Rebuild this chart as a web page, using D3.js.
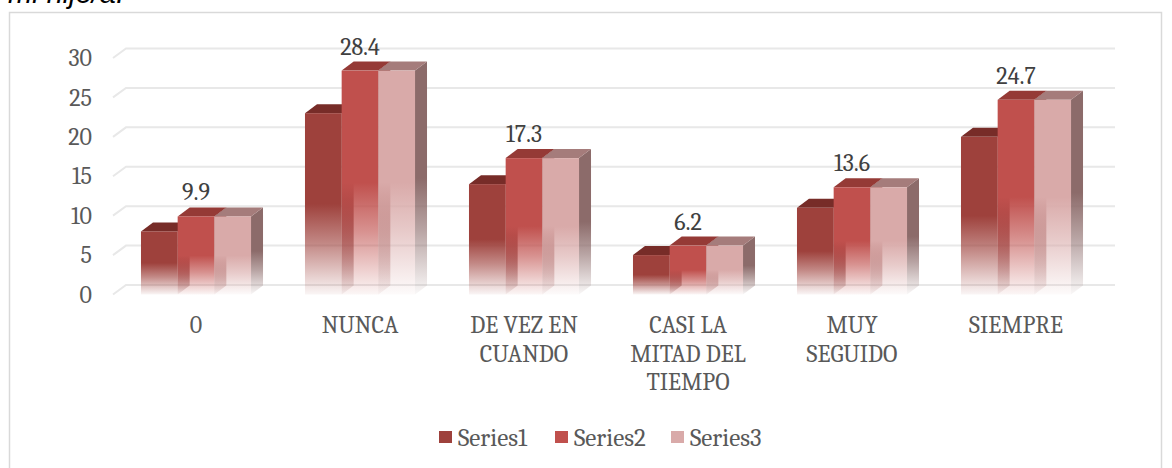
<!DOCTYPE html>
<html>
<head>
<meta charset="utf-8">
<script src="https://cdn.jsdelivr.net/npm/d3@7"></script>
<style>
  body { margin: 0; background: #fff; }
  svg text { font-family: Cambria, "Liberation Serif", serif; }
</style>
</head>
<body>
<div id="chart"></div>
<script>
(function() {
    // Chart data
    const categories = ["0", "NUNCA", "DE VEZ EN CUANDO", "CASI LA MITAD DEL TIEMPO", "MUY SEGUIDO", "SIEMPRE"];
    const seriesNames = ["Series1", "Series2", "Series3"];
    const series1 = [8, 23, 14, 5, 11, 20];
    const series2 = [9.9, 28.4, 17.3, 6.2, 13.6, 24.7];
    const series3 = [9.9, 28.4, 17.3, 6.2, 13.6, 24.7];
    const dataLabels = ["9.9", "28.4", "17.3", "6.2", "13.6", "24.7"];
    const yTicks = [0, 5, 10, 15, 20, 25, 30];

    const values = [series1, series2, series3];

    // colours per series: front, top, side
    const colors = [
        { front: "#9E413C", top: "#772C28", side: "#6E2E2B" },
        { front: "#C0504D", top: "#953A36", side: "#8E3C39" },
        { front: "#D9AAA9", top: "#A57C7B", side: "#8C6B6A" }
    ];

    const width = 1172, height = 468;
    const depth = { dx: 12, dy: -9 };      // bar depth offset
    const gridDepth = { dx: 13, dy: -9.5 }; // wall offset
    const fontSize = "24px";

    const svg = d3.select("#chart")
        .append("svg")
        .attr("width", width)
        .attr("height", height);

    // clipped heading from the document above the chart
    svg.append("text")
        .attr("x", 8)
        .attr("y", 3)
        .style("font-family", "'Liberation Sans', Arial, sans-serif")
        .style("font-style", "italic")
        .style("font-size", "29px")
        .attr("fill", "#000")
        .text("mi hijo/a.");

    // chart border
    svg.append("rect")
        .attr("x", 9.5)
        .attr("y", 12.5)
        .attr("width", 1152)
        .attr("height", 470)
        .attr("fill", "none")
        .attr("stroke", "#D9D9D9")
        .attr("stroke-width", 1.5);

    // Scales
    const y = d3.scaleLinear()
        .domain([0, 30])
        .range([294.5, 58]);

    const x0 = d3.scaleBand()
        .domain(categories)
        .range([114, 1098])
        .paddingInner(0.329)
        .paddingOuter(0.1645);

    const x1 = d3.scaleBand()
        .domain(seriesNames)
        .range([0, x0.bandwidth()]);

    // Gridlines with a 3D wall
    const gridRight = 1115;
    svg.append("g")
        .selectAll("path")
        .data(yTicks)
        .enter()
        .append("path")
        .attr("d", d => `M${x0.range()[0] - 1},${y(d)} L${x0.range()[0] - 1 + gridDepth.dx},${y(d) + gridDepth.dy} L${gridRight},${y(d) + gridDepth.dy}`)
        .attr("fill", "none")
        .attr("stroke", "#E8E8E8")
        .attr("stroke-width", 2);

    // Y axis labels
    const yAxis = d3.axisLeft(y)
        .tickValues(yTicks)
        .tickSize(0)
        .tickPadding(0);

    svg.append("g")
        .attr("transform", "translate(92,0)")
        .call(yAxis)
        .call(g => g.select(".domain").remove())
        .selectAll("text")
        .style("font-family", "Cambria, 'Liberation Serif', serif")
        .style("font-size", fontSize)
        .attr("fill", "#595959");

    // Gradients that fade bars to white at the floor
    const defs = svg.append("defs");
    colors.forEach((c, j) => {
        ["front", "side"].forEach(face => {
            const grad = defs.append("linearGradient")
                .attr("id", `grad-${face}-${j}`)
                .attr("x1", 0).attr("y1", 0)
                .attr("x2", 0).attr("y2", 1);
            const stops = [[0, 1], [0.5, 1], [0.72, 0.62], [0.9, 0.25], [1, 0.05]];
            stops.forEach(s => {
                grad.append("stop")
                    .attr("offset", `${s[0] * 100}%`)
                    .attr("stop-color", c[face])
                    .attr("stop-opacity", s[1]);
            });
        });
    });

    // Bars
    const bars = [];
    categories.forEach((cat, i) => {
        seriesNames.forEach((s, j) => {
            bars.push({ cat: cat, series: s, j: j, value: values[j][i] });
        });
    });

    const barG = svg.append("g");
    const w = x1.bandwidth();
    const base = y(0);

    bars.forEach(d => {
        const bx = x0(d.cat) + x1(d.series);
        const top = y(d.value);
        const g = barG.append("g");

        // side face
        g.append("path")
            .attr("d", `M${bx + w},${top} L${bx + w + depth.dx},${top + depth.dy} L${bx + w + depth.dx},${base + depth.dy} L${bx + w},${base} Z`)
            .attr("fill", `url(#grad-side-${d.j})`);

        // top face
        g.append("path")
            .attr("d", `M${bx},${top} L${bx + depth.dx},${top + depth.dy} L${bx + w + depth.dx},${top + depth.dy} L${bx + w},${top} Z`)
            .attr("fill", colors[d.j].top);

        // front face
        g.append("rect")
            .attr("x", bx)
            .attr("y", top)
            .attr("width", w)
            .attr("height", base - top)
            .attr("fill", `url(#grad-front-${d.j})`);
    });

    // Data labels above Series2
    svg.append("g")
        .selectAll("text")
        .data(categories)
        .enter()
        .append("text")
        .attr("x", d => x0(d) + x0.bandwidth() / 2)
        .attr("y", (d, i) => y(series2[i]) - 16)
        .attr("text-anchor", "middle")
        .style("font-size", fontSize)
        .attr("fill", "#404040")
        .text((d, i) => dataLabels[i]);

    // Category axis
    const xAxis = d3.axisBottom(x0)
        .tickSize(0)
        .tickPadding(21.5);

    svg.append("g")
        .attr("transform", `translate(0,${base})`)
        .call(xAxis)
        .call(g => g.select(".domain").remove())
        .selectAll("text")
        .style("font-family", "Cambria, 'Liberation Serif', serif")
        .style("font-size", fontSize)
        .attr("fill", "#595959")
        .call(wrap, 135);

    function wrap(text, maxWidth) {
        text.each(function() {
            const t = d3.select(this);
            const words = t.text().split(/\s+/);
            const yPos = t.attr("y");
            const dy = parseFloat(t.attr("dy"));
            t.text(null);
            let line = [];
            let lineNo = 0;
            let tspan = t.append("tspan").attr("x", 0).attr("y", yPos).attr("dy", dy + "em");
            words.forEach(word => {
                line.push(word);
                tspan.text(line.join(" "));
                if (tspan.node().getComputedTextLength() > maxWidth && line.length > 1) {
                    line.pop();
                    tspan.text(line.join(" "));
                    line = [word];
                    lineNo++;
                    tspan = t.append("tspan")
                        .attr("x", 0)
                        .attr("y", yPos)
                        .attr("dy", (lineNo * 1.19 + dy) + "em")
                        .text(word);
                }
            });
        });
    }

    // Legend
    const legend = svg.append("g")
        .attr("transform", "translate(439,437)");

    const item = legend.selectAll("g")
        .data(seriesNames)
        .enter()
        .append("g")
        .attr("transform", (d, i) => `translate(${i * 116},0)`);

    item.append("rect")
        .attr("x", 0)
        .attr("y", -6)
        .attr("width", 13)
        .attr("height", 12)
        .attr("fill", (d, i) => colors[i].front);

    item.append("text")
        .attr("x", 19)
        .attr("dy", "0.35em")
        .style("font-size", "25px")
        .attr("fill", "#595959")
        .text(d => d);
})();
</script>
</body>
</html>
